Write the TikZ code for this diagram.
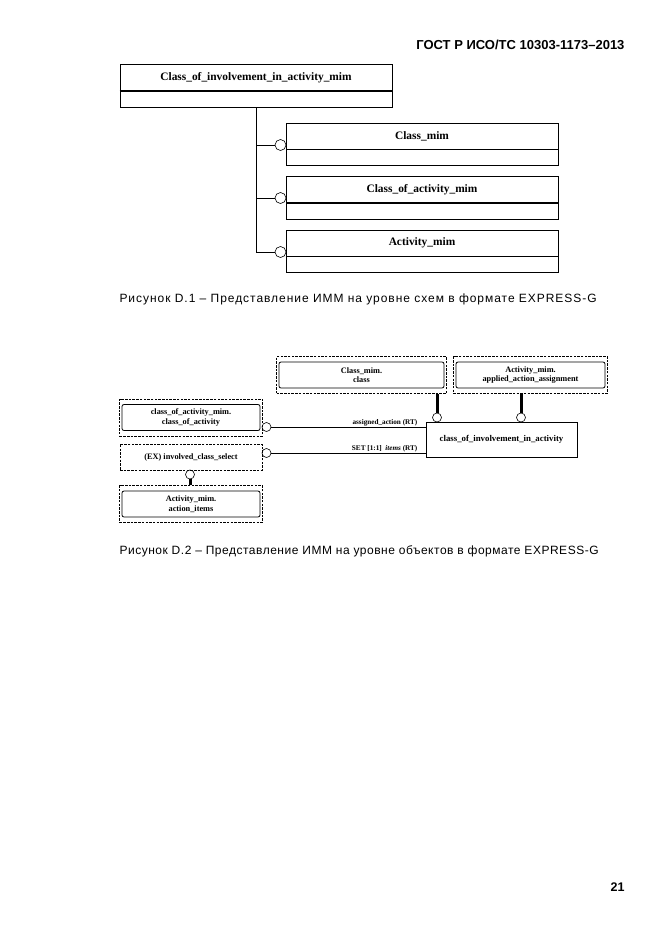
\documentclass[tikz,border=0pt]{standalone}
\usepackage{fontspec}
\setmainfont{Liberation Serif}
\newfontfamily\arialfont{Liberation Sans}
\usetikzlibrary{
	positioning,
	fit
}

\tikzset{
	ent/.style={draw, line width=0.6pt, minimum width=272pt, minimum height=26pt,
		inner sep=0pt, font=\bfseries\fontsize{11.4}{13}\selectfont},
	entlow/.style={draw, line width=0.6pt, minimum width=272pt, minimum height=16pt, inner sep=0pt},
	sub/.style={draw, circle, line width=0.6pt, minimum size=11pt, inner sep=0pt},
	refbox/.style={draw, rounded corners=2pt, line width=0.8pt, align=center, inner sep=0pt,
		minimum height=26pt, font=\bfseries\fontsize{8.3}{9.5}\selectfont},
	refframe/.style={draw, dash pattern=on 2.5pt off 1.2pt, line width=0.7pt,
		inner xsep=2pt, inner ysep=5pt},
	small/.style={draw, circle, line width=0.6pt, minimum size=9pt, inner sep=0pt},
	thickline/.style={line width=3pt},
	lbl/.style={font=\bfseries\fontsize{7.2}{8}\selectfont, inner sep=1pt}
}

\begin{document}
\begin{tikzpicture}[x=1pt, y=-1pt]
		\useasboundingbox (0,0) rectangle (661,935);

		% header and page number
		\node[anchor=east, font=\arialfont\bfseries\fontsize{13}{15}\selectfont] (gost) at (628,45)
			{ГОСТ Р ИСО/ТС 10303-1173–2013};
		\node[anchor=east, font=\arialfont\bfseries\fontsize{12.5}{14}\selectfont] (page) at (628,887) {21};

		% D.1 schema level
		\node[ent]                       (cim)     at (256,77.5) {Class\_of\_involvement\_in\_activity\_mim};
		\node[entlow, below=0pt of cim]  (cimlow)  {};
		\node[ent]                       (cls)     at (422,136)  {Class\_mim};
		\node[entlow, below=0pt of cls]  (clslow)  {};
		\node[ent]                       (coa)     at (422,189.5){Class\_of\_activity\_mim};
		\node[entlow, below=0pt of coa]  (coalow)  {};
		\node[ent]                       (act)     at (422,243)  {Activity\_mim};
		\node[entlow, below=0pt of act]  (actlow)  {};

		\draw[line width=1.3pt] (cim.south west) -- (cim.south east);
		\draw[line width=1.3pt] (act.south west) -- (act.south east);

		\node[sub] (s1) at (280.5,145) {};
		\node[sub] (s2) at (280.5,198) {};
		\node[sub] (s3) at (280.5,252) {};
		\draw[line width=0.6pt] (cimlow.south) |- (s1.west);
		\draw[line width=0.6pt] (cimlow.south) |- (s2.west);
		\draw[line width=0.6pt] (cimlow.south) |- (s3.west);

		\node[anchor=west, font=\arialfont\fontsize{12}{14}\selectfont\addfontfeature{LetterSpace=8}] (cap1) at (116,299)
			{Рисунок D.1 – Представление ИММ на уровне схем в формате EXPRESS-G};

		% D.2 object level
		\node[refbox, minimum width=165pt] (clsref) at (361.5,375)
			{Class\_mim.\\class};
		\node[refframe, fit=(clsref)] (clsfr) {};
		\node[refbox, minimum width=149pt] (actref) at (530.5,375)
			{Activity\_mim.\\applied\_action\_assignment};
		\node[refframe, fit=(actref)] (actfr) {};
		\node[refbox, minimum width=138pt] (coaref) at (191,417.5)
			{class\_of\_activity\_mim.\\class\_of\_activity};
		\node[refframe, fit=(coaref)] (coafr) {};
		\node[refframe, minimum width=142pt, minimum height=26pt, inner sep=0pt,
			font=\bfseries\fontsize{8.3}{9.5}\selectfont] (sel) at (191,457)
			{(EX) involved\_class\_select};
		\node[refbox, minimum width=138pt] (itemref) at (191,504)
			{Activity\_mim.\\action\_items};
		\node[refframe, fit=(itemref)] (itemfr) {};

		\node[draw, line width=0.8pt, minimum width=151pt, minimum height=35pt,
			font=\bfseries\fontsize{8.8}{10}\selectfont] (cia) at (501.5,439.5)
			{class\_of\_involvement\_in\_activity};

		\node[small] (oa) at (437,417.5) {};
		\node[small] (ob) at (521,417.5) {};
		\node[small] (oc) at (266.5,427) {};
		\node[small] (od) at (266.5,453) {};
		\node[small] (oe) at (190,474.5) {};

		\draw[thickline] (clsfr.south -| oa) -- (oa.north);
		\draw[thickline] (actfr.south -| ob) -- (ob.north);
		\draw[thickline] (oe.south) -- (itemfr.north -| oe);
		\draw[line width=0.6pt] (oc.east) -- (oc.east -| cia.west)
			node[lbl, pos=1, anchor=south east, xshift=-7pt] {assigned\_action (RT)};
		\draw[line width=0.6pt] (od.east) -- (od.east -| cia.west)
			node[lbl, pos=1, anchor=south east, xshift=-7pt] {SET [1:1]\ \ \textit{items} (RT)};

		\node[anchor=west, font=\arialfont\fontsize{12}{14}\selectfont\addfontfeature{LetterSpace=4.3}] (cap2) at (116,551)
			{Рисунок D.2 – Представление ИММ на уровне объектов в формате EXPRESS-G};
	\end{tikzpicture}
\end{document}
